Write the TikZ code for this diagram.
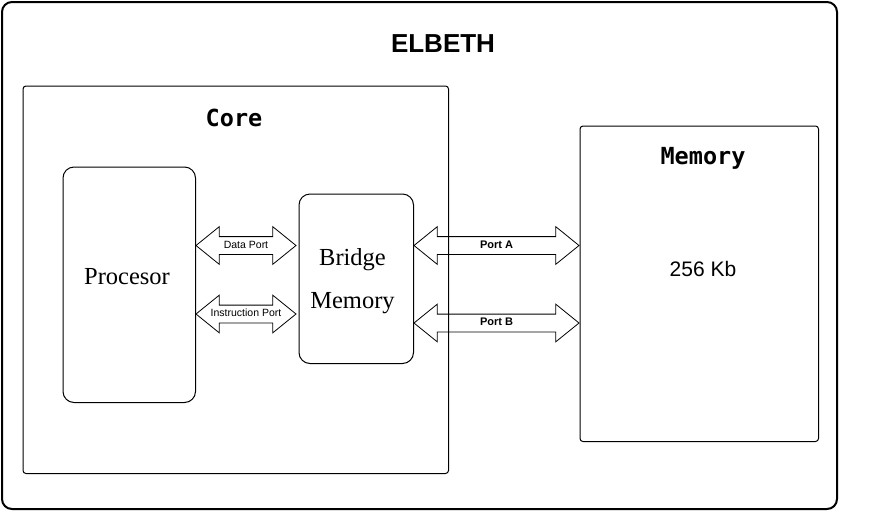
\documentclass[tikz,border=0pt]{standalone}
\usepackage{fontspec}
\setmainfont{Liberation Serif}
\setsansfont{Liberation Sans}
\setmonofont{DejaVu Sans Mono}
\usetikzlibrary{shapes.arrows}

\begin{document}
\begin{tikzpicture}[x=1pt, y=-1pt,
        box/.style={draw, line width=1pt, anchor=north west, inner sep=0pt},
        dblarrow/.style={draw, double arrow, line width=0.8pt, double arrow tip angle=78,
            double arrow head extend=10pt, inner xsep=0pt, inner ysep=4pt,
            text height=7pt, text depth=2pt}]

        \useasboundingbox (0,0) rectangle (896,512);

        % ELBETH
        \begin{scope}
            % Rahmen
            \node[box, line width=2pt, rounded corners=10pt, minimum width=835pt, minimum height=507pt] (elbeth) at (1,1) {};
            \node[font=\sffamily\bfseries\fontsize{26}{30}\selectfont] (elbethtitle) at (443,44) {ELBETH};
        \end{scope}

        % Core
        \begin{scope}
            \node[box, rounded corners=3pt, minimum width=425.5pt, minimum height=387.5pt] (core) at (22.5,85.5) {};
            \node[font=\ttfamily\bfseries\fontsize{23.5}{28}\selectfont] (coretitle) at (234,118) {Core};

            % Procesor
            \node[box, rounded corners=11pt, minimum width=132.5pt, minimum height=235.5pt] (proc) at (62.5,166.5) {};
            \node[font=\fontsize{24.5}{30}\selectfont] (proctxt) at (127,276.5) {Procesor};

            % Bridge Memory
            \node[box, rounded corners=11pt, minimum width=114.5pt, minimum height=169.5pt] (bridge) at (298.5,193.5) {};
            \node[font=\fontsize{24.5}{43}\selectfont, align=center, anchor=north, inner sep=0pt] (bridgetxt) at (352.5,248.3) {Bridge\\Memory};
        \end{scope}

        % Memory
        \begin{scope}
            \node[box, rounded corners=3pt, minimum width=238.5pt, minimum height=315.5pt] (mem) at (579.5,125.5) {};
            \node[font=\ttfamily\bfseries\fontsize{23.5}{28}\selectfont] (memtitle) at (703,158) {Memory};
            \node[font=\sffamily\fontsize{21}{25}\selectfont] (memsize) at (703,269) {256 Kb};
        \end{scope}

        % Ports
        \begin{scope}[font=\sffamily\fontsize{10.5}{12}\selectfont]
            \node[dblarrow, minimum height=100pt] (dataport) at (246,245.5) {Data Port};
            \node[dblarrow, minimum height=100pt] (instrport) at (246,314) {Instruction Port};
        \end{scope}
        \begin{scope}[font=\sffamily\bfseries\fontsize{11}{13}\selectfont]
            \node[dblarrow, minimum height=165pt] (porta) at (496.5,245.5) {Port A};
            \node[dblarrow, minimum height=165pt] (portb) at (496.5,323) {Port B};
        \end{scope}
    \end{tikzpicture}
\end{document}
